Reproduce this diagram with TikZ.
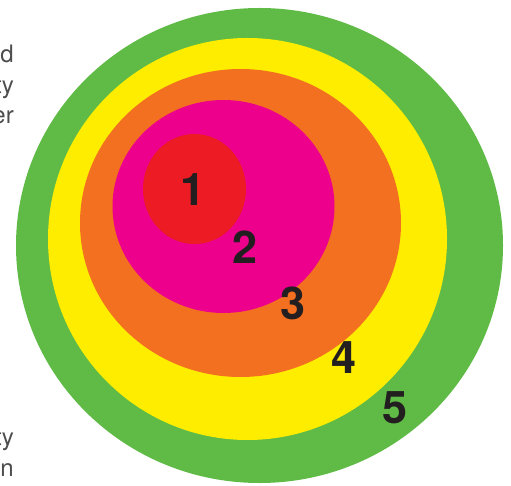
\documentclass[tikz,border=0pt]{standalone}
\usepackage{fontspec}
\setmainfont{TeX Gyre Heros}
\usepackage{xcolor}
\usepackage{tikz}
\usetikzlibrary{positioning}

\definecolor{ringgreen}{HTML}{5FBB46}
\definecolor{ringyellow}{HTML}{FFED00}
\definecolor{ringorange}{HTML}{F37021}
\definecolor{ringmagenta}{HTML}{EC008C}
\definecolor{ringred}{HTML}{ED1C24}
\definecolor{numdark}{HTML}{231F20}
\definecolor{textgray}{HTML}{4D4D4D}

\begin{document}
\begin{tikzpicture}[
    x=1pt, y=-1pt,
    num/.style={font=\fontsize{45}{45}\selectfont\bfseries, text=numdark, inner sep=0pt},
    side/.style={font=\fontsize{24}{30}\selectfont, text=textgray, anchor=base east, inner sep=0pt}
]
    \useasboundingbox (0,0) rectangle (511,486);

    % Rings, outer to inner
    \fill[ringgreen]   (259.5,245.5) ellipse (243.5pt and 237.5pt);
    \fill[ringyellow]  (247.5,239)   ellipse (199.5pt and 201pt);
    \fill[ringorange]  (240.5,223)   ellipse (160.5pt and 154pt);
    \fill[ringmagenta] (223.5,206.5) ellipse (111pt and 106.5pt);
    \fill[ringred]     (194.5,189)   ellipse (51.5pt and 55pt);

    % Numbers
    \node[num] (n1) at (193,190) {1};
    \node[num] (n2) at (245,247) {2};
    \node[num] (n3) at (293,303) {3};
    \node[num] (n4) at (344,358) {4};
    \node[num] (n5) at (395,408) {5};

    % Cut-off text at the left edge
    \node[side] (t1) at (14,63)  {d};
    \node[side] (t2) at (14,94)  {ty};
    \node[side] (t3) at (14,124) {er};
    \node[side] (t4) at (14,445) {ty};
    \node[side] (t5) at (14,476) {n};
\end{tikzpicture}
\end{document}
